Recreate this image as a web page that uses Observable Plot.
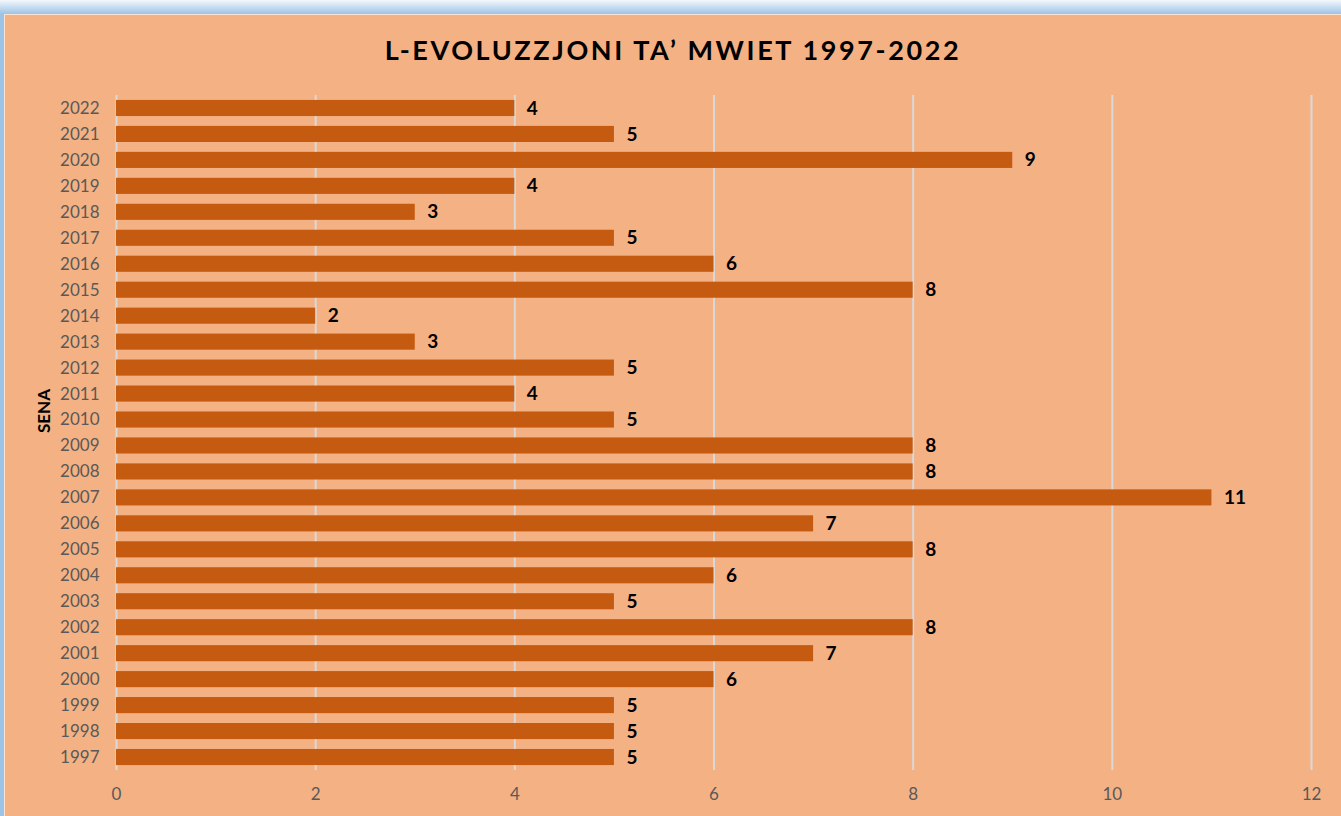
<!DOCTYPE html>
<html>
<head>
<meta charset="utf-8">
<script src="https://cdn.jsdelivr.net/npm/d3@7"></script>
<script src="https://cdn.jsdelivr.net/npm/@observablehq/plot@0.6"></script>
<style>
  html, body { margin: 0; padding: 0; }
  body {
    width: 1341px; height: 816px; overflow: hidden; position: relative;
    background: linear-gradient(to bottom, #f4f8fc 0px, #9dc3e6 14px, #9dc3e6 816px);
    font-family: Lato, "Open Sans", sans-serif;
  }
  #frame {
    position: absolute; left: 4px; top: 14px; width: 1337px; height: 802px;
    background: #F4B183; border-top: 1px solid #fbe3d3; border-left: 1px solid #fbe3d3;
    box-sizing: border-box;
  }
  #title {
    position: absolute; left: 0; top: 33px; width: 1346px; text-align: center;
    font-family: Lato, sans-serif; font-weight: 700; font-size: 27px; letter-spacing: 2.6px;
    color: #000;
  }
  #chart { position: absolute; left: 0; top: 0; }
</style>
</head>
<body>
<div id="frame"></div>
<div id="title">L-EVOLUZZJONI TA’ MWIET 1997-2022</div>
<div id="chart"></div>
<script>
const years = ["1997","1998","1999","2000","2001","2002","2003","2004","2005","2006","2007","2008","2009","2010","2011","2012","2013","2014","2015","2016","2017","2018","2019","2020","2021","2022"];
const deaths = [5,5,5,6,7,8,5,6,8,7,11,8,8,5,4,5,3,2,8,6,5,3,4,9,5,4];
const xTicks = [0,2,4,6,8,10,12];
const yLabel = "SENA";

const data = years.map((y, i) => ({year: y, value: deaths[i]}));
const order = years.slice().reverse();

const plot = Plot.plot({
  width: 1341,
  height: 816,
  marginLeft: 116,
  marginRight: 30,
  marginTop: 95,
  marginBottom: 46,
  style: {background: "transparent", color: "#595959", fontFamily: "Lato, sans-serif"},
  x: {domain: [0, 12], ticks: xTicks, label: null},
  y: {domain: order, paddingInner: 0.38, paddingOuter: 0.19, round: false, label: null},
  marks: [
    Plot.gridX(xTicks, {stroke: "#d9d9d9", strokeOpacity: 1, strokeWidth: 2}),
    Plot.barX(data, {x: "value", y: "year", fill: "#C55A11"}),
    Plot.text(data, {x: "value", y: "year", text: d => String(d.value), textAnchor: "start", dx: 12,
      fill: "#000", fontWeight: 700, fontSize: 19}),
    Plot.axisX(xTicks, {tickSize: 0, tickPadding: 17, fontSize: 17, fill: "#595959", label: null}),
    Plot.axisY({tickSize: 0, tickPadding: 17, fontSize: 17, fill: "#595959", label: null}),
    Plot.text([yLabel], {frameAnchor: "left", dx: -72, rotate: -90, text: d => d, fill: "#000",
      fontWeight: 700, fontSize: 17})
  ]
});
document.getElementById("chart").appendChild(plot);
</script>
</body>
</html>
